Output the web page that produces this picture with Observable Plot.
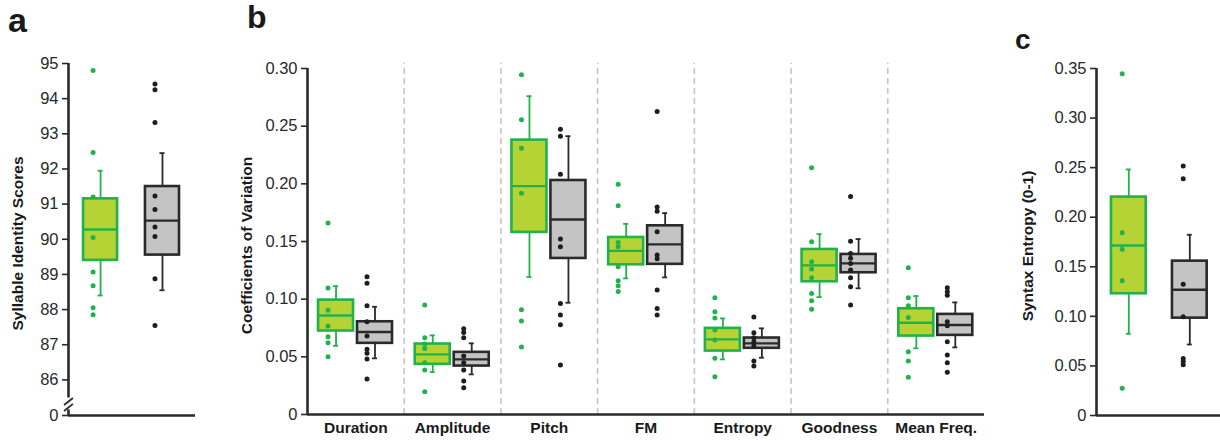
<!DOCTYPE html>
<html>
<head>
<meta charset="utf-8">
<script src="https://cdn.jsdelivr.net/npm/d3@7"></script>
<script src="https://cdn.jsdelivr.net/npm/@observablehq/plot@0.6"></script>
<style>
  html, body { margin: 0; padding: 0; background: #fff; }
  #wrap { position: relative; width: 1220px; height: 441px; overflow: hidden; background: #fff;
          font-family: "Liberation Sans", Arial, sans-serif; }
  .panel { position: absolute; top: 0; }
  .letter { position: absolute; font-weight: bold; color: #1a1a1a; line-height: 1; }
</style>
</head>
<body>
<div id="wrap"></div>
<script>
// ---------- Panel a: Syllable identity scores ----------
const aTicks = [0, 86, 87, 88, 89, 90, 91, 92, 93, 94, 95];
const aQ1 = [89.4, 89.55];
const aMedian = [90.28, 90.53];
const aQ3 = [91.15, 91.5];
const aWhiskLow = [88.4, 88.55];
const aWhiskHigh = [91.95, 92.45];
const aPointsGreen = [94.8, 92.47, 91.2, 90.05, 89.07, 88.68, 88.05, 87.85];
const aPointsGray = [94.42, 94.25, 93.32, 91.23, 90.85, 90.35, 90.08, 88.88, 87.55];

// ---------- Panel b: Coefficients of variation ----------
const bCategories = ["Duration", "Amplitude", "Pitch", "FM", "Entropy", "Goodness", "Mean Freq."];
const bTicks = [0, 0.05, 0.10, 0.15, 0.20, 0.25, 0.30];
const bGreenQ1 = [0.0724, 0.0435, 0.1579, 0.1298, 0.0550, 0.1151, 0.0680];
const bGreenMedian = [0.0859, 0.0521, 0.1980, 0.1419, 0.0651, 0.1293, 0.0796];
const bGreenQ3 = [0.0992, 0.0611, 0.2379, 0.1535, 0.0747, 0.1431, 0.0917];
const bGreenLow = [0.0596, 0.0368, 0.1192, 0.1180, 0.0478, 0.1018, 0.0574];
const bGreenHigh = [0.1113, 0.0686, 0.2760, 0.1653, 0.0833, 0.1564, 0.1027];
const bGreenPoints = [
  [0.166, 0.1096, 0.0903, 0.0767, 0.0674, 0.0622, 0.0501],
  [0.0949, 0.0666, 0.0611, 0.0573, 0.0449, 0.0386, 0.0198],
  [0.2945, 0.2555, 0.2309, 0.1919, 0.0908, 0.081, 0.0585],
  [0.1997, 0.1809, 0.1492, 0.1454, 0.1281, 0.1159, 0.1116, 0.1067],
  [0.1012, 0.0891, 0.0836, 0.0732, 0.0646, 0.0487, 0.0328],
  [0.2139, 0.1497, 0.1324, 0.1261, 0.1185, 0.105, 0.0986, 0.0912],
  [0.1272, 0.1012, 0.0943, 0.0842, 0.0544, 0.0464, 0.0322]
];
const bGrayQ1 = [0.0617, 0.0420, 0.1353, 0.1302, 0.0574, 0.1229, 0.0686];
const bGrayMedian = [0.0715, 0.0478, 0.1691, 0.1475, 0.0617, 0.1310, 0.0776];
const bGrayQ3 = [0.0804, 0.0539, 0.2029, 0.1636, 0.0663, 0.1388, 0.0868];
const bGrayLow = [0.0487, 0.0348, 0.0969, 0.1189, 0.0492, 0.1094, 0.0582];
const bGrayHigh = [0.0934, 0.0617, 0.2413, 0.1746, 0.0747, 0.1521, 0.0972];
const bGrayPoints = [
  [0.1194, 0.1137, 0.0943, 0.0804, 0.068, 0.0565, 0.053, 0.0481, 0.0308],
  [0.0744, 0.0712, 0.0666, 0.0507, 0.0449, 0.0386, 0.029, 0.0232],
  [0.2474, 0.2413, 0.2084, 0.1521, 0.1454, 0.0963, 0.0862, 0.0778, 0.0429],
  [0.2627, 0.18, 0.1763, 0.1584, 0.1382, 0.135, 0.1079, 0.092, 0.0862],
  [0.0845, 0.0709, 0.0666, 0.0631, 0.0594, 0.0464, 0.042],
  [0.1891, 0.1503, 0.1397, 0.1354, 0.131, 0.1252, 0.1185, 0.1107, 0.0949],
  [0.1099, 0.1064, 0.1033, 0.0804, 0.077, 0.0631, 0.0516, 0.0449, 0.0366]
];

// ---------- Panel c: Syntax entropy ----------
const cTicks = [0, 0.05, 0.10, 0.15, 0.20, 0.25, 0.30, 0.35];
const cQ1 = [0.1228, 0.0982];
const cMedian = [0.1715, 0.1268];
const cQ3 = [0.2203, 0.1557];
const cWhiskLow = [0.0824, 0.0716];
const cWhiskHigh = [0.2482, 0.1823];
const cPointsGreen = [0.3448, 0.1843, 0.1678, 0.1359, 0.0276];
const cPointsGray = [0.2516, 0.2388, 0.1325, 0.0997, 0.0575, 0.0545, 0.0511];

// ---------- styles ----------
const GREEN_FILL = "#b5d334", GREEN = "#20b24b";
const GRAY_FILL = "#c4c4c4", DARK = "#2a2a2a";
const FONT = "Liberation Sans, Arial, Helvetica, sans-serif";
const styles = [
  {fill: GREEN_FILL, stroke: GREEN, dot: GREEN},
  {fill: GRAY_FILL, stroke: DARK, dot: "#1e1e1e"}
];

function boxMarks(rows, half, cap, st) {
  return [
    Plot.ruleX(rows, {x: "x", y1: "lo", y2: "q1", stroke: st.stroke, strokeWidth: 1.8}),
    Plot.ruleX(rows, {x: "x", y1: "q3", y2: "hi", stroke: st.stroke, strokeWidth: 1.8}),
    Plot.ruleY(rows, {y: "lo", x1: d => d.x - cap, x2: d => d.x + cap, stroke: st.stroke, strokeWidth: 1.8}),
    Plot.ruleY(rows, {y: "hi", x1: d => d.x - cap, x2: d => d.x + cap, stroke: st.stroke, strokeWidth: 1.8}),
    Plot.rect(rows, {x1: d => d.x - half, x2: d => d.x + half, y1: "q1", y2: "q3",
      fill: st.fill, stroke: st.stroke, strokeWidth: 2.6}),
    Plot.ruleY(rows, {y: "med", x1: d => d.x - half, x2: d => d.x + half, stroke: st.stroke, strokeWidth: 2.4}),
  ];
}
function dotMarks(pts, st, dotDx) {
  return Plot.dot(pts, {x: "x", y: "y", r: 2.5, fill: st.dot, stroke: "none", dx: dotDx});
}
function yAxis(ticks, fmt) {
  return Plot.axisY({ticks, tickFormat: fmt, tickSize: 6, tickPadding: 4, fontSize: 16.5,
    color: "#2a2a2a", strokeWidth: 1.6, label: null});
}
function yTitle(text, dx, dy) {
  return Plot.text([text], {frameAnchor: "left", textAnchor: "middle", lineAnchor: "middle",
    rotate: -90, dx, dy, fontWeight: "bold", fontSize: 15.5, fill: "#1a1a1a"});
}
const fmt2 = d => d === 0 ? "0" : d.toFixed(2);

const wrap = document.getElementById("wrap");
function place(svg, left) {
  const div = document.createElement("div");
  div.className = "panel";
  div.style.left = left + "px";
  div.appendChild(svg);
  wrap.appendChild(div);
}
function letter(t, left, top, size) {
  const d = document.createElement("div");
  d.className = "letter";
  d.textContent = t;
  d.style.left = left + "px"; d.style.top = top + "px"; d.style.fontSize = size + "px";
  wrap.appendChild(d);
}

// ---------- Panel a (broken axis: 0 … 85.3 squeezed into a short gap) ----------
{
  const B = 85.3, G = 0.313;
  const brk = v => v >= B ? v : (B - G) + v * G / B;
  const tickVals = aTicks.map(brk);
  const tickLab = new Map(tickVals.map((v, i) => [v, String(aTicks[i])]));
  const centers = [0.505, 1.48];
  const half = 0.268, cap = 0.04;
  const marks = [];
  const groupsPts = [aPointsGreen, aPointsGray];
  centers.forEach((cx, i) => {
    const rows = [{x: cx, q1: brk(aQ1[i]), med: brk(aMedian[i]), q3: brk(aQ3[i]),
      lo: brk(aWhiskLow[i]), hi: brk(aWhiskHigh[i])}];
    marks.push(...boxMarks(rows, half, cap, styles[i]));
  });
  centers.forEach((cx, i) => {
    marks.push(dotMarks(groupsPts[i].map(y => ({x: cx, y: brk(y)})), styles[i], -7.5));
  });
  const y0 = brk(0);
  const plot = Plot.plot({
    width: 200, height: 441,
    marginLeft: 68, marginRight: 5, marginTop: 63, marginBottom: 26,
    x: {domain: [0, 2], axis: null},
    y: {domain: [y0, 95], axis: null},
    style: {fontFamily: FONT, background: "transparent", overflow: "visible"},
    marks: [
      yAxis(tickVals, d => tickLab.get(d)),
      Plot.ruleX([0], {y1: y0 + 0.50, y2: 95, stroke: DARK, strokeWidth: 2.6}),
      Plot.ruleX([0], {y1: y0, y2: y0 + 0.16, stroke: DARK, strokeWidth: 2.6}),
      Plot.link([{a: -0.07, b: 0.07, ya: y0 + 0.13, yb: y0 + 0.33}, {a: -0.07, b: 0.07, ya: y0 + 0.30, yb: y0 + 0.50}],
        {x1: "a", x2: "b", y1: "ya", y2: "yb", stroke: DARK, strokeWidth: 1.8}),
      Plot.ruleY([y0], {x1: 0, x2: 2, stroke: DARK, strokeWidth: 2.6}),
      ...marks,
      yTitle("Syllable Identity Scores", -50, 4)
    ]
  });
  place(plot, 0);
}

// ---------- Panel b ----------
{
  const half = 0.181, cap = 0.026;
  const gOff = 0.295, kOff = 0.698;
  const greenRows = bCategories.map((c, i) => ({x: i + gOff, q1: bGreenQ1[i], med: bGreenMedian[i],
    q3: bGreenQ3[i], lo: bGreenLow[i], hi: bGreenHigh[i]}));
  const grayRows = bCategories.map((c, i) => ({x: i + kOff, q1: bGrayQ1[i], med: bGrayMedian[i],
    q3: bGrayQ3[i], lo: bGrayLow[i], hi: bGrayHigh[i]}));
  const greenPts = bGreenPoints.flatMap((arr, i) => arr.map(y => ({x: i + gOff, y})));
  const grayPts = bGrayPoints.flatMap((arr, i) => arr.map(y => ({x: i + kOff, y})));
  const centers = bCategories.map((c, i) => i + 0.5);
  const catLab = new Map(centers.map((v, i) => [v, bCategories[i]]));
  const plot = Plot.plot({
    width: 770, height: 441,
    marginLeft: 77, marginRight: 16, marginTop: 68, marginBottom: 27,
    x: {domain: [0, 7], axis: null},
    y: {domain: [0, 0.30], axis: null},
    style: {fontFamily: FONT, background: "transparent", overflow: "visible"},
    marks: [
      Plot.ruleX(d3.range(1, bCategories.length), {y1: 0, y2: 0.3045, stroke: "#c6c6c6",
        strokeWidth: 1.6, strokeDasharray: "6,4"}),
      yAxis(bTicks, fmt2),
      Plot.axisX({ticks: centers, tickFormat: d => catLab.get(d), tickSize: 0, tickPadding: 7,
        fontSize: 15.5, fontWeight: "bold", color: "#1a1a1a", label: null}),
      Plot.ruleX([0], {y1: 0, y2: 0.30, stroke: DARK, strokeWidth: 2.6}),
      Plot.ruleY([0], {x1: 0, x2: 7, stroke: DARK, strokeWidth: 2.6}),
      ...boxMarks(greenRows, half, cap, styles[0]),
      ...boxMarks(grayRows, half, cap, styles[1]),
      dotMarks(greenPts, styles[0], -8),
      dotMarks(grayPts, styles[1], -8),
      yTitle("Coefficients of Variation", -60, 4)
    ]
  });
  place(plot, 230);
}

// ---------- Panel c ----------
{
  const centers = [0.521, 1.505];
  const half = 0.28, cap = 0.04;
  const marks = [];
  const groupsPts = [cPointsGreen, cPointsGray];
  centers.forEach((cx, i) => {
    const rows = [{x: cx, q1: cQ1[i], med: cMedian[i], q3: cQ3[i], lo: cWhiskLow[i], hi: cWhiskHigh[i]}];
    marks.push(...boxMarks(rows, half, cap, styles[i]));
  });
  centers.forEach((cx, i) => {
    marks.push(dotMarks(groupsPts[i].map(y => ({x: cx, y})), styles[i], -6.6));
  });
  const plot = Plot.plot({
    width: 220, height: 441,
    marginLeft: 96, marginRight: 0, marginTop: 68, marginBottom: 26,
    x: {domain: [0, 2], axis: null},
    y: {domain: [0, 0.35], axis: null},
    style: {fontFamily: FONT, background: "transparent", overflow: "visible"},
    marks: [
      yAxis(cTicks, fmt2),
      Plot.ruleX([0], {y1: 0, y2: 0.35, stroke: DARK, strokeWidth: 2.6}),
      Plot.ruleY([0], {x1: 0, x2: 2, stroke: DARK, strokeWidth: 2.6}),
      ...marks,
      yTitle("Syntax Entropy (0-1)", -68, 4)
    ]
  });
  place(plot, 1000);
}

letter("a", 8, 3, 34);
letter("b", 247, 1, 32);
letter("c", 1015, 26, 28);
</script>
</body>
</html>
